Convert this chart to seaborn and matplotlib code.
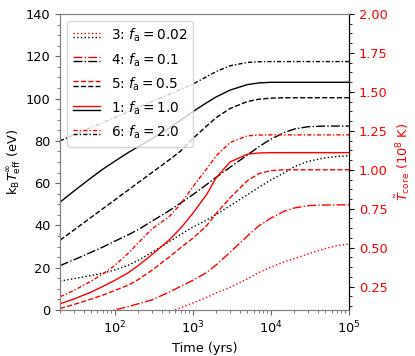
import numpy as np
import pandas as pd
import seaborn as sns
import matplotlib
matplotlib.use("Agg")
import matplotlib.pyplot as plt
from matplotlib.lines import Line2D
from matplotlib.legend_handler import HandlerBase
from matplotlib.ticker import AutoMinorLocator

# time grid (yrs)
time = [20, 30, 50, 70, 100, 150, 200, 300, 500, 700, 1e3, 1.5e3, 2e3, 3e3,
        5e3, 7e3, 1e4, 1.5e4, 2e4, 3e4, 5e4, 7e4, 1e5]

# k_B T_eff (eV), left axis
teff_3 = [13.7, 14.8, 16.3, 17.4, 18.9, 21.2, 23.5, 27.2, 32.3, 35.7, 39.2, 42.5,
          45.2, 49.3, 54.5, 58.0, 61.5, 65.0, 67.8, 70.3, 72.0, 72.6, 73.0]
teff_4 = [21.0, 23.7, 27.3, 29.7, 32.5, 35.6, 38.0, 42.0, 47.0, 50.6, 54.5, 59.3,
          62.8, 67.5, 73.3, 77.2, 80.8, 84.0, 85.6, 86.7, 87.0, 87.0, 87.0]
teff_5 = [33.0, 37.8, 43.8, 47.8, 52.0, 56.8, 60.2, 65.0, 71.0, 75.2, 81.0, 87.0,
          91.0, 95.3, 98.6, 99.7, 100.2, 100.4, 100.4, 100.4, 100.4, 100.4, 100.4]
teff_1 = [51.0, 56.2, 62.5, 66.5, 70.3, 74.5, 77.2, 81.0, 86.0, 89.8, 93.8, 98.0,
          100.8, 104.0, 106.6, 107.4, 107.7, 107.7, 107.7, 107.7, 107.7, 107.7, 107.7]
teff_6 = [80.0, 82.8, 86.3, 88.6, 91.0, 93.8, 95.8, 98.6, 102.0, 104.3, 106.8, 110.3,
          112.8, 115.5, 117.1, 117.4, 117.5, 117.5, 117.5, 117.5, 117.5, 117.5, 117.5]

# core temperature (1e8 K), right axis
tcore_3 = [-0.05, -0.03, 0.0, 0.02, 0.035, 0.05, 0.06, 0.07, 0.085, 0.115, 0.145, 0.18,
           0.21, 0.245, 0.30, 0.34, 0.375, 0.41, 0.43, 0.46, 0.495, 0.513, 0.524]
tcore_4 = [0.0, 0.03, 0.06, 0.08, 0.10, 0.122, 0.14, 0.165, 0.215, 0.252, 0.29, 0.34,
           0.39, 0.47, 0.575, 0.64, 0.69, 0.735, 0.755, 0.77, 0.774, 0.775, 0.775]
tcore_5 = [0.11, 0.135, 0.17, 0.195, 0.225, 0.26, 0.295, 0.355, 0.44, 0.50, 0.56, 0.64,
           0.72, 0.82, 0.93, 0.975, 0.995, 1.0, 1.0, 1.0, 1.0, 1.0, 1.0]
tcore_1 = [0.14, 0.17, 0.215, 0.25, 0.29, 0.34, 0.385, 0.455, 0.55, 0.625, 0.72, 0.84,
           0.95, 1.05, 1.10, 1.108, 1.11, 1.11, 1.11, 1.11, 1.11, 1.11, 1.11]
tcore_6 = [0.185, 0.225, 0.285, 0.33, 0.385, 0.465, 0.53, 0.62, 0.70, 0.78, 0.89, 1.005,
           1.09, 1.175, 1.218, 1.223, 1.224, 1.224, 1.224, 1.224, 1.224, 1.224, 1.224]

labels = ["3: $f_{\\rm a} = 0.02$", "4: $f_{\\rm a} = 0.1$", "5: $f_{\\rm a} = 0.5$",
          "1: $f_{\\rm a} = 1.0$", "6: $f_{\\rm a} = 2.0$"]
styles = [":", "-.", "--", "-", (0, (3, 1.5, 1, 1.5))]
teff = [teff_3, teff_4, teff_5, teff_1, teff_6]
tcore = [tcore_3, tcore_4, tcore_5, tcore_1, tcore_6]


class TwoLines(HandlerBase):
    # red line above black line in each legend entry
    def create_artists(self, legend, orig, xdescent, ydescent, width, height, fontsize, trans):
        out = []
        for h, frac in zip(orig, (0.72, 0.28)):
            ln = Line2D([-xdescent, -xdescent + width], [height * frac - ydescent] * 2)
            ln.update_from(h)
            ln.set_transform(trans)
            out.append(ln)
        return out


fs = 9.3
fig, ax = plt.subplots(figsize=(4.15, 3.56), dpi=100)
fig.subplots_adjust(left=0.1446, right=0.841, top=0.9607, bottom=0.1292)
ax2 = ax.twinx()

handles = []
for ls, te, tc in zip(styles, teff, tcore):
    sns.lineplot(x=time, y=te, ax=ax, color="black", linestyle=ls, lw=1.0)
    sns.lineplot(x=time, y=tc, ax=ax2, color="red", linestyle=ls, lw=1.0)
    handles.append((Line2D([], [], color="red", linestyle=ls, lw=1.0),
                    Line2D([], [], color="black", linestyle=ls, lw=1.0)))

ax.set_xscale("log")
ax.set_xlim(20, 1e5)
ax.set_ylim(0, 140)
ax2.set_ylim(0.1, 2.0)
ax2.set_yticks([0.25, 0.5, 0.75, 1.0, 1.25, 1.5, 1.75, 2.0])
ax.yaxis.set_minor_locator(AutoMinorLocator())
ax2.yaxis.set_minor_locator(AutoMinorLocator(4))

ax.set_xlabel("Time (yrs)", fontsize=fs)
ax.set_ylabel("k$_{\\rm B}T_{\\rm eff}^{\\infty}$ (eV)", fontsize=fs, labelpad=2)
ax2.set_ylabel("$\\tilde{T}_{\\rm core}$ (10$^8$ K)", fontsize=fs, color="red")

ax.tick_params(labelsize=fs, colors="0.4", labelcolor="black", which="both")
ax2.tick_params(axis="y", labelsize=fs, labelcolor="red", which="both")
for s in ["left", "top", "bottom"]:
    ax.spines[s].set_color("0.5")
    ax2.spines[s].set_color("0.5")
ax2.spines["right"].set_color("black")

ax.legend(handles, labels, handler_map={tuple: TwoLines()}, loc="upper left",
          fontsize=9.8, labelspacing=0.5, handlelength=2.0, borderaxespad=0.55)

plt.savefig("out.png", dpi=100)
